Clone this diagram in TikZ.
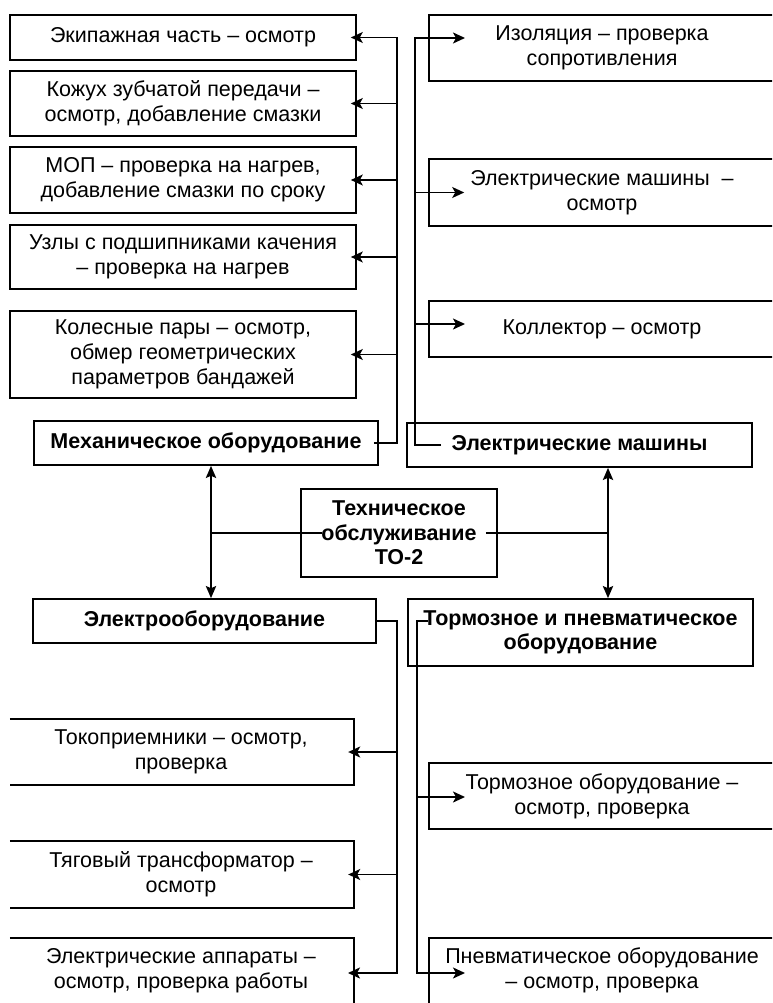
\documentclass[tikz,border=0pt]{standalone}
\usepackage{fontspec}
\setmainfont{Liberation Sans}
\usetikzlibrary{arrows.meta,calc}
\begin{document}
\begin{tikzpicture}[x=1pt,y=-1pt,
  txt/.style={font=\fontsize{21.5}{25}\selectfont, align=center, inner sep=0pt},
  hdr/.style={font=\fontsize{21.5}{24.5}\selectfont\bfseries, align=center, inner sep=0pt},
  frame/.style={draw, line width=1.6pt},
  wide/.style={minimum width=346pt},
  link/.style={line width=1.7pt},
  tip/.style={link, -{Stealth[length=12pt,width=11pt,inset=3pt]}},
  dbl/.style={line width=2.8pt, {Stealth[length=12pt,width=10pt,inset=2pt]}-{Stealth[length=12pt,width=10pt,inset=2pt]}},
]
\useasboundingbox (0,0) rectangle (772,1003);
\clip (0,0) rectangle (772,1003);

% bus lines and arrow columns
\coordinate (lbus) at (397,0);
\coordinate (rbus) at (415,0);
\coordinate (rbusb) at (417,0);
\coordinate (la) at (211,0);
\coordinate (ra) at (608,0);

% mechanical equipment
\node[txt, frame, wide, minimum height=45pt] (m1) at (183,37.5) {Экипажная часть – осмотр};
\node[txt, frame, wide, minimum height=65pt] (m2) at (183,103.5) {Кожух зубчатой передачи –\\осмотр, добавление смазки};
\node[txt, frame, wide, minimum height=66pt] (m3) at (183,180) {МОП – проверка на нагрев,\\добавление смазки по сроку};
\node[txt, frame, wide, minimum height=64pt] (m4) at (183,257) {Узлы с подшипниками качения\\– проверка на нагрев};
\node[txt, frame, wide, minimum height=87pt] (m5) at (183,354.5) {Колесные пары – осмотр,\\обмер геометрических\\параметров бандажей};
\node[hdr, frame, minimum width=344pt, minimum height=44pt] (mech) at (206,443) {Механическое оборудование};

% electric machines
\node[txt, frame, wide, minimum height=66pt] (e1) at (602,48) {Изоляция – проверка\\сопротивления};
\node[txt, frame, wide, minimum height=67pt] (e2) at (602,192.5) {Электрические машины~ –\\осмотр};
\node[txt, frame, wide, minimum height=56pt] (e3) at (602,329) {Коллектор – осмотр};
\node[hdr, frame, minimum width=345pt, minimum height=44pt] (em) at (579.5,445) {Электрические машины};

% centre
\node[hdr, frame, minimum width=196pt, minimum height=88pt] (to) at (399,533) {Техническое\\обслуживание\\ТО-2};

% electrical equipment
\node[hdr, frame, minimum width=343pt, minimum height=44pt] (eo) at (204.5,621) {Электрооборудование};
\node[txt, wide, minimum height=66pt] (a1) at (181,752) {Токоприемники – осмотр,\\проверка};
\node[txt, wide, minimum height=67pt] (a2) at (181,874.5) {Тяговый трансформатор –\\осмотр};
\node[txt, wide, minimum height=65pt] (a3) at (181,970.5) {Электрические аппараты –\\осмотр, проверка работы};
\draw[line width=1.6pt] ([xshift=2pt]a1.north west) -- (a1.north east) -- (a1.south east) -- ([xshift=2pt]a1.south west);
\draw[line width=1.6pt] ([xshift=2pt]a2.north west) -- (a2.north east) -- (a2.south east) -- ([xshift=2pt]a2.south west);
\draw[line width=1.6pt] ([xshift=2pt]a3.north west) -- (a3.north east) -- ([yshift=-5pt]a3.south east);

% brake and pneumatic equipment
\node[hdr, frame, minimum width=345pt, minimum height=67pt] (tp) at (580.5,632.5) {Тормозное и пневматическое\\оборудование};
\node[txt, frame, wide, minimum height=66pt] (p1) at (602,796) {Тормозное оборудование –\\осмотр, проверка};
\node[txt, wide, minimum height=65pt] (p2) at (602,970.5) {Пневматическое оборудование\\– осмотр, проверка};
\draw[line width=1.6pt] ([yshift=-5pt]p2.south west) -- (p2.north west) -- ([xshift=5pt]p2.north east);

% arrow ends inside boxes
\coordinate (e1in) at (465,38);
\coordinate (e3in) at (465,324);
\coordinate (tpin) at (428,621);
\coordinate (p1in) at (465,797);
\coordinate (p2in) at (465,973);
\coordinate (a3in) at (348,973);

% mechanical bus
\draw[tip] ([xshift=-5pt]mech.east) -| (lbus |- m1.east) -- ([xshift=-6pt]m1.east);
\foreach \b in {m2,m3,m4,m5}
  \draw[tip] (lbus |- \b.east) -- ([xshift=-6pt]\b.east);

% electric machines bus
\draw[tip] ([xshift=35pt]em.west) -| (rbus |- e1in) -- (e1in);
\draw[tip] (rbus |- e2.west) -- ([xshift=36pt]e2.west);
\draw[tip] (rbus |- e3in) -- (e3in);

% electrical equipment bus
\draw[tip] ([xshift=-2pt]eo.east) -| (lbus |- a3in) -- (a3in);
\draw[tip] (lbus |- a1.east) -- ([xshift=-6pt]a1.east);
\draw[tip] (lbus |- a2.east) -- ([xshift=-6pt]a2.east);

% brake bus
\draw[tip] (tpin) -| (rbusb |- p2in) -- (p2in);
\draw[tip] (rbusb |- p1in) -- (p1in);

% centre links
\draw[dbl] (la |- mech.south) -- (la |- eo.north);
\draw[dbl] (ra |- em.south) -- (ra |- tp.north);
\draw[link] (la |- to.west) -- ([xshift=22pt]to.west);
\draw[link] ([xshift=-12pt]to.east) -- (ra |- to.east);
\end{tikzpicture}
\end{document}
